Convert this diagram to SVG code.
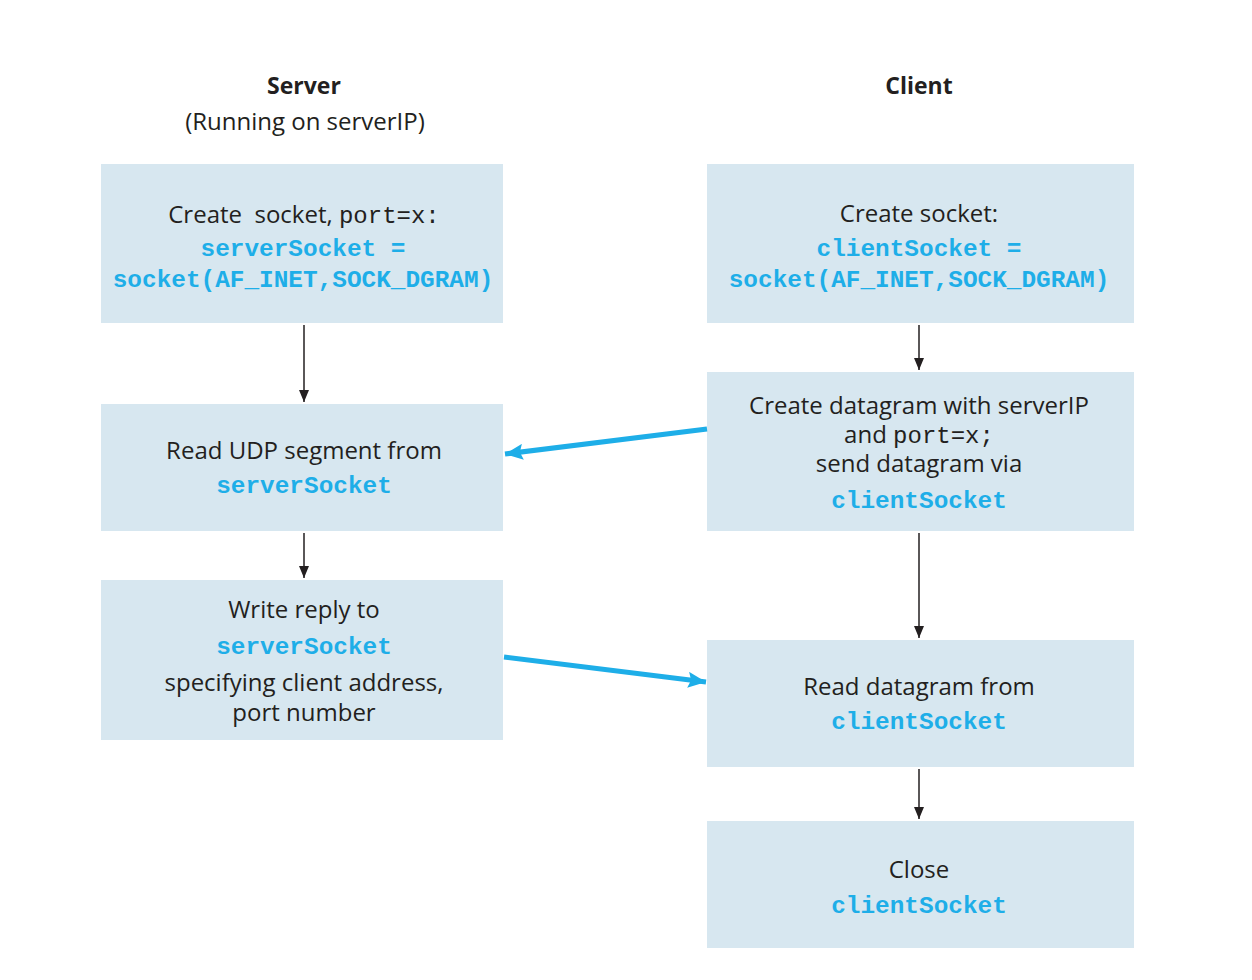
<svg xmlns="http://www.w3.org/2000/svg" width="1252" height="980" viewBox="0 0 1252 980">
<style>
.box{fill:#d7e7f0;}
.t{font-family:"Open Sans","Liberation Sans",sans-serif;font-size:24px;fill:#231f20;text-anchor:middle;}
.h{font-weight:bold;font-size:23px;}
.m{font-family:"Liberation Mono","Courier New",monospace;font-size:24px;}
.c{font-family:"Liberation Mono","Courier New",monospace;font-size:24.4px;font-weight:bold;fill:#1eaee8;text-anchor:middle;}
.k{stroke:#231f20;stroke-width:1.5;fill:none;}
.b{stroke:#1eaee8;stroke-width:5;fill:none;}
</style>
<defs>
<marker id="ak" viewBox="0 0 12 10" refX="12" refY="5" markerWidth="12" markerHeight="10" markerUnits="userSpaceOnUse" orient="auto"><path d="M0,0 L12,5 L0,10 Z" fill="#231f20"/></marker>
<marker id="ab" viewBox="0 0 18 16" refX="18" refY="8" markerWidth="18" markerHeight="16" markerUnits="userSpaceOnUse" orient="auto"><path d="M0,0 L18,8 L0,16 L3,8 Z" fill="#1eaee8"/></marker>
</defs>
<rect width="1252" height="980" fill="#ffffff"/>
<g id="header-server">
<text class="t h" x="304" y="94">Server</text>
<text class="t" x="305" y="130">(Running on serverIP)</text>
</g>
<g id="header-client">
<text class="t h" x="919" y="94">Client</text>
</g>
<g id="s1">
<rect class="box" x="101" y="164" width="402" height="159"/>
<text class="t" x="304" y="223" xml:space="preserve">Create  socket, <tspan class="m">port=x:</tspan></text>
<text class="c" x="303" y="256">serverSocket =</text>
<text class="c" x="303" y="287">socket(AF_INET,SOCK_DGRAM)</text>
</g>
<g id="s2">
<rect class="box" x="101" y="404" width="402" height="127"/>
<text class="t" x="304" y="459">Read UDP segment from</text>
<text class="c" x="304" y="493">serverSocket</text>
</g>
<g id="s3">
<rect class="box" x="101" y="580" width="402" height="160"/>
<text class="t" x="304" y="618">Write reply to</text>
<text class="c" x="304" y="654">serverSocket</text>
<text class="t" x="304" y="691">specifying client address,</text>
<text class="t" x="304" y="721">port number</text>
</g>
<g id="c1">
<rect class="box" x="707" y="164" width="427" height="159"/>
<text class="t" x="919" y="222">Create socket:</text>
<text class="c" x="919" y="256">clientSocket =</text>
<text class="c" x="919" y="287">socket(AF_INET,SOCK_DGRAM)</text>
</g>
<g id="c2">
<rect class="box" x="707" y="372" width="427" height="159"/>
<text class="t" x="919" y="414">Create datagram with serverIP</text>
<text class="t" x="919" y="443">and <tspan class="m">port=x;</tspan></text>
<text class="t" x="919" y="472">send datagram via</text>
<text class="c" x="919" y="508">clientSocket</text>
</g>
<g id="c3">
<rect class="box" x="707" y="640" width="427" height="127"/>
<text class="t" x="919" y="695">Read datagram from</text>
<text class="c" x="919" y="729">clientSocket</text>
</g>
<g id="c4">
<rect class="box" x="707" y="821" width="427" height="127"/>
<text class="t" x="919" y="878">Close</text>
<text class="c" x="919" y="913">clientSocket</text>
</g>
<g id="connectors">
<line class="k" x1="304" y1="325" x2="304" y2="402" marker-end="url(#ak)"/>
<line class="k" x1="304" y1="533" x2="304" y2="578" marker-end="url(#ak)"/>
<line class="k" x1="919" y1="325" x2="919" y2="370" marker-end="url(#ak)"/>
<line class="k" x1="919" y1="533" x2="919" y2="638" marker-end="url(#ak)"/>
<line class="k" x1="919" y1="769" x2="919" y2="819" marker-end="url(#ak)"/>
<line class="b" x1="707" y1="429" x2="505" y2="454" marker-end="url(#ab)"/>
<line class="b" x1="504" y1="657" x2="706" y2="682" marker-end="url(#ab)"/>
</g>
</svg>
